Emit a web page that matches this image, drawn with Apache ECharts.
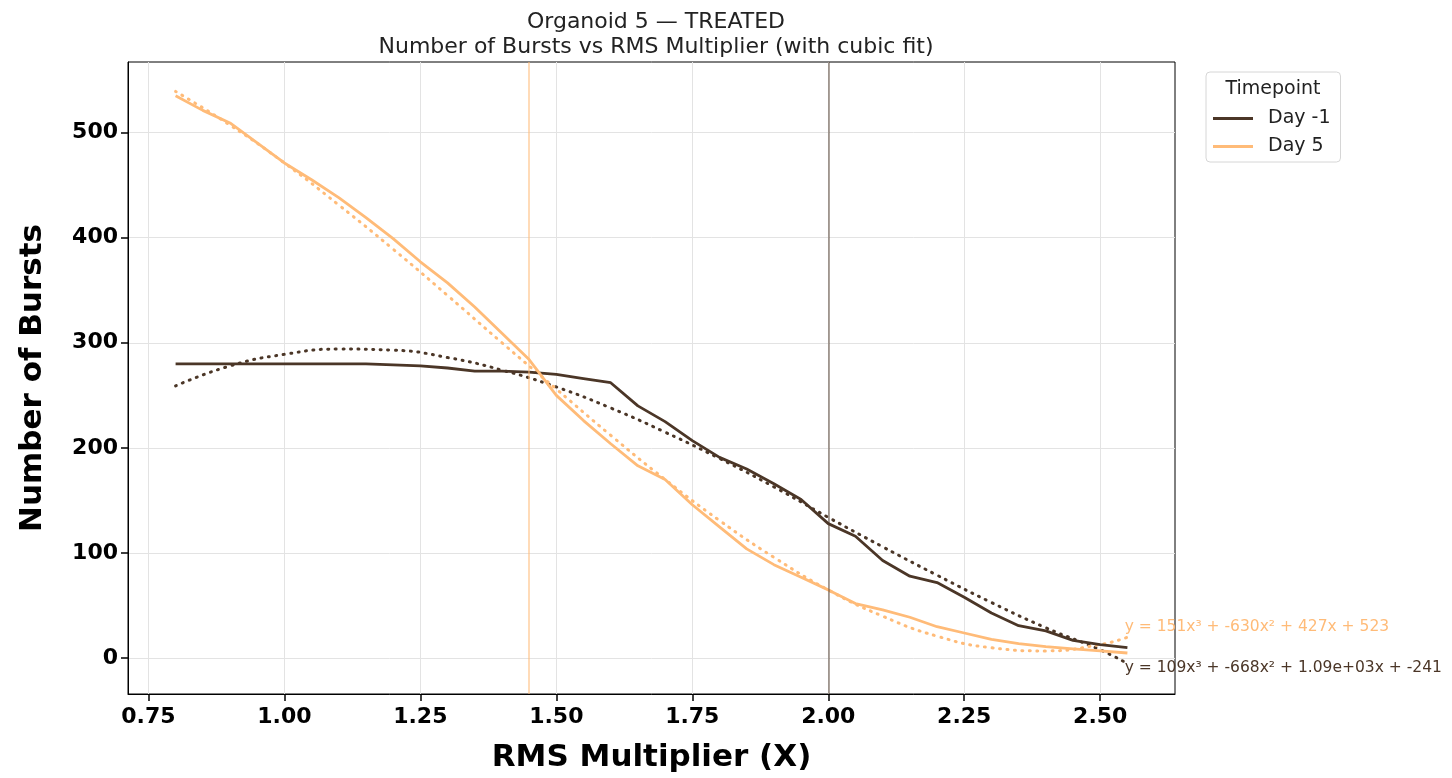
<!DOCTYPE html>
<html lang="en">
<head>
    <title>Organoid 5 — TREATED</title>
    <meta http-equiv="content-type" content="text/html; charset=utf-8">
    <script src="https://cdn.jsdelivr.net/npm/echarts@6/dist/echarts.min.js"></script>
</head>
<style>
    * { margin: 0; padding: 0; box-sizing: border-box; }
    html, body { width: 100%; height: 100%; background: #fff; }
    #main { width: 1452px; height: 778px; }
</style>
<body>
    <div id="main"></div>
</body>
<script>
    // measured data (RMS multiplier vs number of bursts)
    const rmsX = [0.8, 0.85, 0.9, 0.95, 1.0, 1.05, 1.1, 1.15, 1.2, 1.25, 1.3, 1.35,
        1.4, 1.45, 1.5, 1.55, 1.6, 1.65, 1.7, 1.75, 1.8, 1.85, 1.9, 1.95,
        2.0, 2.05, 2.1, 2.15, 2.2, 2.25, 2.3, 2.35, 2.4, 2.45, 2.5, 2.55];
    const dayMinus1 = [280, 280, 280, 280, 280, 280, 280, 280, 279, 278, 276, 273,
        273, 272, 270, 266, 262, 240, 225, 207, 191, 180, 166, 151,
        128, 116, 93, 78, 72, 58, 43, 31, 26, 17, 13, 10];
    const day5 = [535, 521, 509, 490, 471, 455, 438, 419, 399, 377, 357, 334,
        309, 284, 250, 226, 204, 183, 170, 146, 125, 104, 89, 77,
        65, 52, 46, 39, 30, 24, 18, 14, 11, 9, 7, 5];

    // cubic fit curves
    const fitX = [0.8, 0.9, 1.0, 1.1, 1.2, 1.3, 1.4, 1.5, 1.6, 1.7, 1.8, 1.9,
        2.0, 2.1, 2.2, 2.3, 2.4, 2.5, 2.55];
    const fitMinus1 = [259, 278, 289, 294, 293, 286, 274, 258, 238, 215, 190, 163,
        134, 106, 79, 53, 29, 8, -5];
    const fit5 = [539, 507, 471, 431, 389, 345, 300, 256, 212, 170, 131, 96,
        65, 40, 21, 10, 7, 13, 20];

    const eqMinus1 = 'y = 109x³ + -668x² + 1.09e+03x + -241';
    const eq5 = 'y = 151x³ + -630x² + 427x + 523';

    const xTicks = [0.75, 1.0, 1.25, 1.5, 1.75, 2.0, 2.25, 2.5];
    const yTicks = [0, 100, 200, 300, 400, 500];

    const cDark = '#4b3627';
    const cLight = '#ffbb78';
    const font = '"DejaVu Sans", Verdana, sans-serif';

    const pairs = (xs, ys) => xs.map((x, i) => [x, ys[i]]);

    const chart = echarts.init(document.getElementById('main'));

    chart.setOption({
        animation: false,
        textStyle: { fontFamily: font },
        title: {
            text: 'Organoid 5 — TREATED\nNumber of Bursts vs RMS Multiplier (with cubic fit)',
            left: 651,
            top: 5,
            textAlign: 'center',
            textStyle: { fontSize: 22, fontWeight: 'normal', color: '#222', lineHeight: 25, fontFamily: font }
        },
        grid: {
            left: 128, right: 277, top: 62, bottom: 81,
            show: true, borderColor: '#000', borderWidth: 1, backgroundColor: 'transparent'
        },
        legend: {
            orient: 'vertical',
            left: 1206, top: 72,
            padding: [37, 10, 6, 7],
            itemGap: 9,
            itemWidth: 40, itemHeight: 3,
            icon: 'rect',
            backgroundColor: '#fff',
            borderColor: '#d6d6d6', borderWidth: 1, borderRadius: 4,
            data: ['Day -1', 'Day 5'],
            textStyle: { fontSize: 19, color: '#222', padding: [0, 0, 0, 10], fontFamily: font }
        },
        graphic: [{
            type: 'text',
            x: 1273, y: 89, z: 100,
            style: { text: 'Timepoint', fontSize: 19, fill: '#222', align: 'center', verticalAlign: 'middle', fontFamily: font }
        }],
        xAxis: {
            type: 'value',
            min: 0.7125, max: 2.6375,
            name: 'RMS Multiplier (X)',
            nameLocation: 'middle',
            nameGap: 48,
            nameTextStyle: { fontSize: 31, fontWeight: 'bold', color: '#000', fontFamily: font },
            axisLine: { show: true, onZero: false, lineStyle: { color: '#000', width: 1 } },
            axisTick: { show: true, inside: false, length: 7, lineStyle: { color: '#000', width: 1.5 }, customValues: xTicks },
            axisLabel: {
                customValues: xTicks, margin: 12, fontSize: 22, fontWeight: 'bold', color: '#000',
                formatter: v => v.toFixed(2)
            },
            splitLine: { show: true, lineStyle: { color: '#e3e3e3', width: 1 } }
        },
        yAxis: {
            type: 'value',
            min: -34, max: 567,
            name: 'Number of Bursts',
            nameLocation: 'middle',
            nameRotate: 90,
            nameGap: 80,
            nameTextStyle: { fontSize: 31, fontWeight: 'bold', color: '#000', fontFamily: font },
            axisLine: { show: true, onZero: false, lineStyle: { color: '#000', width: 1 } },
            axisTick: { show: true, inside: false, length: 7, lineStyle: { color: '#000', width: 1.5 }, customValues: yTicks },
            axisLabel: { customValues: yTicks, margin: 10, fontSize: 22, fontWeight: 'bold', color: '#000' },
            splitLine: { show: true, lineStyle: { color: '#e3e3e3', width: 1 } }
        },
        series: [
            {
                name: 'Day -1', type: 'line', data: pairs(rmsX, dayMinus1),
                symbol: 'none', color: cDark, z: 3,
                lineStyle: { width: 2.8, color: cDark },
                markLine: {
                    silent: true, symbol: ['none', 'none'], label: { show: false },
                    lineStyle: { type: 'solid', color: 'rgba(75,54,39,0.6)', width: 1.5 },
                    data: [{ xAxis: 2.0 }]
                }
            },
            {
                name: 'Day 5', type: 'line', data: pairs(rmsX, day5),
                symbol: 'none', color: cLight, z: 3,
                lineStyle: { width: 2.8, color: cLight },
                markLine: {
                    silent: true, symbol: ['none', 'none'], label: { show: false },
                    lineStyle: { type: 'solid', color: 'rgba(255,187,120,0.7)', width: 1.5 },
                    data: [{ xAxis: 1.45 }]
                }
            },
            {
                name: 'fit -1', type: 'line', data: pairs(fitX, fitMinus1),
                symbol: 'none', smooth: true, z: 2,
                lineStyle: { width: 3, color: cDark, type: [1, 6.5], cap: 'round' },
                markPoint: {
                    symbol: 'circle', symbolSize: 0,
                    data: [{ coord: [2.545, -9] }],
                    label: { show: true, position: 'right', distance: 0, formatter: eqMinus1, fontSize: 15.5, color: cDark, fontFamily: font }
                }
            },
            {
                name: 'fit 5', type: 'line', data: pairs(fitX, fit5),
                symbol: 'none', smooth: true, z: 2,
                lineStyle: { width: 3, color: cLight, type: [1, 6.5], cap: 'round' },
                markPoint: {
                    symbol: 'circle', symbolSize: 0,
                    data: [{ coord: [2.545, 30] }],
                    label: { show: true, position: 'right', distance: 0, formatter: eq5, fontSize: 15.5, color: cLight, fontFamily: font }
                }
            }
        ]
    });
</script>
</html>
